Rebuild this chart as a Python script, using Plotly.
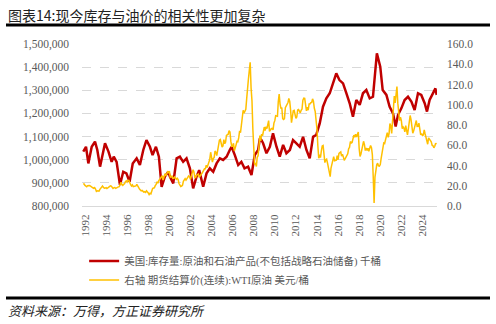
import pandas as pd
import plotly.graph_objects as go

# ---------------- data ----------------
title_text = "图表14:现今库存与油价的相关性更加复杂"
source_text = "资料来源：万得，方正证券研究所"
stock_name = "美国:库存量:原油和石油产品(不包括战略石油储备) 千桶"
wti_name = "右轴 期货结算价(连续):WTI原油 美元/桶"

stock_t = [1992.71, 1992.97, 1993.19, 1993.51, 1993.82, 1994.04, 1994.30, 1994.77, 1995.10, 1995.40,
           1995.60, 1995.87, 1996.19, 1996.50, 1996.80, 1997.10, 1997.40, 1997.77, 1998.08, 1998.40,
           1998.70, 1999.03, 1999.28, 1999.60, 1999.88, 2000.14, 2000.45, 2000.77, 2000.92, 2001.24,
           2001.56, 2001.87, 2002.18, 2002.50, 2002.82, 2003.13, 2003.45, 2003.70, 2004.08, 2004.40,
           2004.71, 2005.03, 2005.35, 2005.66, 2005.97, 2006.30, 2006.60, 2006.77, 2007.08, 2007.40,
           2007.70, 2008.00, 2008.34, 2008.66, 2008.97, 2009.29, 2009.45, 2009.60, 2009.76, 2010.08,
           2010.40, 2010.70, 2011.03, 2011.34, 2011.66, 2011.97, 2012.30, 2012.60, 2012.92, 2013.23,
           2013.55, 2013.87, 2014.18, 2014.50, 2014.80, 2015.13, 2015.44, 2015.76, 2016.08, 2016.39,
           2016.70, 2017.00, 2017.34, 2017.66, 2017.97, 2018.28, 2018.60, 2018.92, 2019.23, 2019.55,
           2019.87, 2020.18, 2020.55, 2020.87, 2021.10, 2021.45, 2021.76, 2022.08, 2022.33, 2022.55,
           2022.87, 2023.18, 2023.50, 2023.82, 2024.13, 2024.45, 2024.76, 2025.08, 2025.30, 2025.55,
           2025.87, 2026.10, 2026.22]
stock_v = [1034600, 1056000, 984000, 1056000, 1078000, 1042000, 970000, 1071000, 1035000, 991000,
           1013000, 991000, 891000, 948000, 941000, 905000, 984000, 1006000, 977000, 1042000,
           1085000, 1056000, 1020000, 1056000, 1013000, 883000, 927000, 948000, 927000, 898000,
           1006000, 1013000, 991000, 1006000, 963000, 876000, 927000, 955000, 883000, 941000,
           963000, 948000, 984000, 1006000, 999000, 1013000, 1042000, 1056000, 1020000, 977000,
           991000, 963000, 970000, 934000, 1020000, 1042000, 1092000, 1085000, 1071000, 1028000,
           1056000, 1114000, 1056000, 1013000, 1064000, 1028000, 1042000, 1085000, 1071000, 1056000,
           1099000, 1042000, 1006000, 1099000, 1107000, 1157000, 1229000, 1265000, 1287000, 1330000,
           1373000, 1344000, 1330000, 1287000, 1244000, 1186000, 1258000, 1237000, 1287000, 1301000,
           1265000, 1272000, 1460000, 1402000, 1301000, 1280000, 1229000, 1200000, 1143000, 1193000,
           1222000, 1258000, 1272000, 1251000, 1215000, 1287000, 1280000, 1244000, 1208000, 1258000,
           1287000, 1308000, 1280000]

# WTI continuous futures settlement (USD/bbl), monthly from 1992-09
wti_start = "1992-09-01"
wti_v = [21.9, 21.7, 20.3, 19.4,
         19.0, 20.1, 20.3, 20.3, 19.9, 19.1, 17.9, 18.0, 17.5, 18.1, 16.7, 14.5,
         15.0, 14.8, 14.7, 16.4, 17.9, 19.1, 19.7, 18.4, 17.5, 17.7, 18.1, 17.2,
         18.0, 18.5, 18.6, 19.9, 19.7, 18.5, 17.3, 18.0, 18.2, 17.4, 18.0, 19.0,
         18.9, 19.1, 21.3, 23.5, 21.2, 20.4, 21.3, 22.0, 24.0, 24.9, 23.7, 25.4,
         25.2, 22.2, 21.0, 19.7, 20.8, 19.2, 19.6, 19.9, 19.8, 21.3, 20.2, 18.3,
         16.7, 16.1, 15.0, 15.4, 14.9, 13.7, 14.1, 13.4, 15.0, 14.4, 12.9, 11.3,
         12.5, 12.0, 14.7, 17.3, 17.8, 17.9, 20.1, 21.3, 23.9, 22.6, 25.0, 26.1,
         27.2, 29.4, 29.9, 25.7, 28.8, 31.8, 29.7, 31.3, 33.9, 33.1, 34.4, 28.5,
         29.6, 29.6, 27.2, 27.4, 28.6, 27.6, 26.4, 27.4, 26.2, 22.2, 19.6, 19.3,
         19.7, 20.7, 24.4, 26.3, 27.0, 25.5, 26.9, 28.4, 29.7, 28.9, 26.3, 29.4,
         32.9, 35.9, 33.6, 28.3, 28.1, 30.7, 30.8, 31.6, 28.3, 30.3, 31.1, 32.1,
         34.3, 34.7, 36.7, 36.7, 40.3, 38.0, 40.8, 44.9, 46.0, 53.1, 48.5, 43.3,
         46.8, 48.0, 54.3, 53.0, 49.8, 56.3, 58.7, 65.0, 65.6, 62.4, 58.3, 59.4,
         65.5, 61.6, 62.9, 69.7, 70.9, 70.9, 74.4, 73.0, 63.8, 58.9, 59.1, 62.0,
         54.5, 59.3, 60.4, 63.9, 63.5, 67.5, 74.1, 72.4, 79.9, 86.2, 94.6, 91.7,
         93.0, 95.4, 105.5, 112.6, 125.4, 134.0, 142.0, 116.7, 104.1, 76.6, 57.3, 41.1,
         41.7, 39.1, 47.9, 49.7, 59.0, 69.6, 64.2, 71.1, 69.4, 75.7, 78.0, 74.5,
         78.3, 76.4, 81.2, 84.3, 73.7, 75.3, 76.3, 76.6, 75.2, 81.9, 84.3, 89.2,
         89.2, 88.6, 102.9, 110.5, 100.9, 96.3, 97.3, 86.3, 85.5, 86.3, 97.2, 98.6,
         100.3, 102.2, 106.2, 103.3, 94.7, 82.3, 87.9, 94.1, 94.5, 89.5, 86.5, 87.9,
         94.8, 95.3, 92.9, 92.0, 94.5, 95.8, 104.6, 106.6, 106.3, 100.5, 93.9, 97.6,
         94.6, 100.8, 100.8, 102.1, 102.2, 105.8, 103.6, 96.5, 93.2, 84.4, 75.8, 59.3,
         47.2, 50.6, 47.8, 54.5, 59.3, 59.8, 50.9, 42.9, 45.5, 46.2, 42.4, 37.2,
         31.7, 29.0, 37.5, 40.8, 46.7, 48.8, 44.7, 44.7, 45.2, 49.8, 45.7, 52.0,
         52.5, 53.5, 49.3, 51.1, 48.5, 45.2, 46.6, 48.0, 49.8, 51.6, 56.6, 57.9,
         63.7, 62.2, 62.7, 66.3, 70.0, 67.9, 71.0, 68.1, 70.2, 73.0, 56.7, 49.0,
         51.4, 55.0, 58.2, 63.9, 60.8, 54.7, 57.4, 54.8, 57.0, 54.0, 57.0, 59.8,
         57.5, 50.5, 29.2, 3.0, 28.6, 38.3, 40.7, 42.3, 39.6, 39.4, 41.0, 47.0,
         52.0, 59.1, 62.3, 61.7, 65.2, 71.4, 72.5, 67.7, 71.6, 81.5, 79.2, 71.7,
         83.2, 91.6, 108.5, 101.8, 109.6, 118.0, 101.6, 93.7, 84.3, 87.6, 84.4, 76.4,
         78.1, 76.8, 73.3, 79.4, 71.6, 70.3, 76.1, 81.4, 89.4, 85.6, 77.7, 71.9,
         74.2, 77.0, 80.6, 84.4, 78.6, 78.7, 81.8, 76.7, 70.2, 71.6, 69.7, 70.1,
         75.1, 71.2, 68.2, 63.5, 61.0, 67.3, 66.0, 64.0, 63.5, 60.0, 59.5, 57.5,
         59.0, 62.0, 61.0]

tick_years = list(range(1992, 2025, 2))
tick_labels = [str(y) for y in tick_years]


def dec_to_ts(t):
    y = int(t)
    return pd.Timestamp(year=y, month=1, day=1) + pd.Timedelta(days=(t - y) * 365.25)


stock_x = [dec_to_ts(t) for t in stock_t]
wti_x = pd.date_range(start=wti_start, periods=len(wti_v), freq="MS") + pd.Timedelta(days=14)
tick_x = [pd.Timestamp(year=y, month=11, day=15) for y in tick_years]

# ---------------- figure ----------------
num_font = "Liberation Serif, Times New Roman, serif"
cjk_font = "Liberation Serif, Noto Sans CJK SC, serif"
gray = "#595959"

fig = go.Figure()
fig.add_trace(go.Scatter(x=stock_x, y=stock_v, mode="lines", name=stock_name,
                         line=dict(color="#C00000", width=2.5), yaxis="y"))
fig.add_trace(go.Scatter(x=wti_x, y=wti_v, mode="lines", name=wti_name,
                         line=dict(color="#FFC000", width=1.5), yaxis="y2"))

fig.update_layout(
    width=496, height=324,
    margin=dict(l=82, r=59, t=44, b=118),
    paper_bgcolor="white", plot_bgcolor="white",
    font=dict(family=num_font, size=11, color=gray),
    xaxis=dict(
        type="date",
        range=[dec_to_ts(1992.59), dec_to_ts(2026.25)],
        tickmode="array", tickvals=tick_x, ticktext=tick_labels,
        tickangle=-90, tickfont=dict(family=num_font, size=11, color=gray),
        showgrid=False, showline=True, linecolor="#D9D9D9", linewidth=1,
        ticks="", zeroline=False, ticklabelstandoff=3,
    ),
    yaxis=dict(
        range=[800000, 1500000], dtick=100000, tickformat=",.0f",
        showgrid=True, gridcolor="#D9D9D9", griddash="dash", gridwidth=1,
        zeroline=False, showline=False, ticks="", ticklabelstandoff=12,
        tickfont=dict(family=num_font, size=11.5, color=gray),
    ),
    yaxis2=dict(
        range=[0, 160], dtick=20, tickformat=".1f", overlaying="y", side="right",
        showgrid=False, zeroline=False, showline=False, ticks="", ticklabelstandoff=9,
        tickfont=dict(family=num_font, size=11.5, color=gray),
    ),
    showlegend=True,
    legend=dict(
        x=0.006, xanchor="left", y=-0.25, yanchor="top", orientation="v",
        font=dict(family=cjk_font, size=10.5, color=gray),
        bgcolor="rgba(0,0,0,0)", itemwidth=30,
    ),
)

# title, rules and source
fig.add_annotation(text=title_text, xref="paper", yref="paper", x=-76 / 355, y=(206 - 15) / 162,
                   xanchor="left", yanchor="middle", showarrow=False,
                   font=dict(family="Noto Sans CJK SC", size=14, color="#222222"))
fig.add_shape(type="line", xref="paper", yref="paper", x0=-76 / 355, x1=(490 - 82) / 355,
              y0=(206 - 25) / 162, y1=(206 - 25) / 162, line=dict(color="black", width=3))
fig.add_shape(type="line", xref="paper", yref="paper", x0=-76 / 355, x1=(490 - 82) / 355,
              y0=(206 - 298) / 162, y1=(206 - 298) / 162, line=dict(color="black", width=3))
fig.add_annotation(text="<i>" + source_text + "</i>", xref="paper", yref="paper",
                   x=-76 / 355, y=(206 - 310) / 162, xanchor="left", yanchor="middle",
                   showarrow=False, font=dict(family="Noto Sans CJK SC", size=13, color="#222222"))

fig.write_html("out.html")
